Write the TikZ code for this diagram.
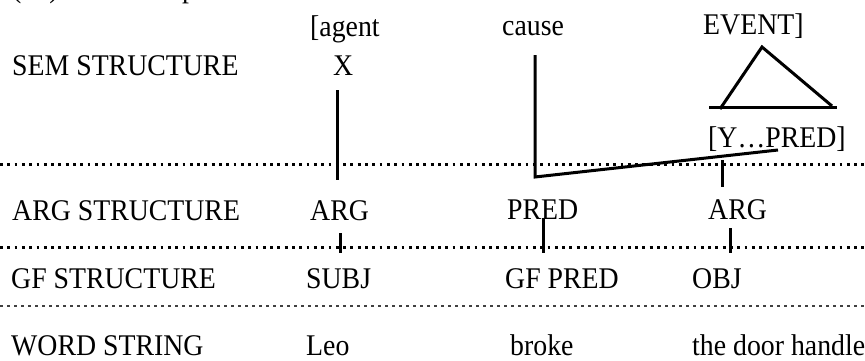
\documentclass[tikz,border=0pt]{standalone}
\usepackage{fontspec}
\setmainfont{Liberation Serif}
\newcommand{\tallt}[1]{\scalebox{1}[1.08]{#1}}
\begin{document}
\begin{tikzpicture}[x=1pt,y=-1pt,
  lbl/.style={anchor=base west,inner sep=0pt,font=\fontsize{27.8}{30}\selectfont},
  link/.style={line width=3pt,line join=miter},
  tier/.style={line width=3pt,dash pattern=on 2.8pt off 4.5pt},
  tierthin/.style={line width=1.1pt,black!75,dash pattern=on 2.7pt off 4.3pt}]
\useasboundingbox (0,0) rectangle (865,360);
\clip (0,0) rectangle (865,360);
% clipped heading fragment (cut at the top edge, as in the reference)
\node[lbl] (head) at (12,-3) {\tallt{(14)}};
\node[lbl] (headw) at (117,-3) {\tallt{Example}};
% row labels
\node[lbl] (sem) at (12,75) {\tallt{SEM STRUCTURE}};
\node[lbl] (argS) at (12,220) {\tallt{ARG STRUCTURE}};
\node[lbl] (gfS) at (11,288) {\tallt{GF STRUCTURE}};
\node[lbl] (wordS) at (11,355) {\tallt{WORD STRING}};
% semantic structure
\node[lbl] (agent) at (310,36) {\tallt{[agent}};
\node[lbl] (cause) at (502,35) {\tallt{cause}};
\node[lbl] (event) at (703,34) {\tallt{EVENT]}};
\node[lbl] (X) at (333,75) {\tallt{X}};
\node[lbl] (ypred) at (708,147) {\tallt{[Y…PRED]}};
% argument structure
\node[lbl] (arg1) at (310,220) {\tallt{ARG}};
\node[lbl] (pred) at (507,219) {\tallt{PRED}};
\node[lbl] (arg2) at (708,219) {\tallt{ARG}};
% GF structure
\node[lbl] (subj) at (306,288) {\tallt{SUBJ}};
\node[lbl] (gfpred) at (505,288) {\tallt{GF PRED}};
\node[lbl] (obj) at (692,288) {\tallt{OBJ}};
% word string
\node[lbl] (leo) at (306,355) {\tallt{Leo}};
\node[lbl] (broke) at (510,355) {\tallt{broke}};
\node[lbl] (tdh) at (692,355) {\tallt{the door handle}};
% tier separators
\coordinate (d1l) at (0,164); \coordinate (d1r) at (865,164);
\coordinate (d2l) at (0,247); \coordinate (d2r) at (865,247);
\coordinate (d3l) at (0,306); \coordinate (d3r) at (865,306);
\draw[tier] (d1l) -- (d1r);
\draw[tier] (d2l) -- (d2r);
\draw[tierthin] (d3l) -- (d3r);
% triangle
\coordinate (tapex) at (762,47);
\coordinate (tleft) at (720,109);
\coordinate (tright) at (832,106);
\coordinate (tbl) at (709,107);
\coordinate (tbr) at (837,107);
\draw[link] (tleft) -- (tapex) -- (tright);
\draw[link] (tbl) -- (tbr);
% association lines
\coordinate (xa) at (337,90); \coordinate (xb) at (337,180);
\draw[link] (xa) -- (xb);
\coordinate (ca) at (535,55); \coordinate (cb) at (535,177); \coordinate (cc) at (778,150);
\draw[link] (ca) -- (cb) -- (cc);
\coordinate (ya) at (722,160); \coordinate (yb) at (722,187);
\draw[link] (ya) -- (yb);
\coordinate (s1a) at (340,233); \coordinate (s1b) at (340,253);
\draw[link] (s1a) -- (s1b);
\coordinate (s2a) at (543,218); \coordinate (s2b) at (543,253);
\draw[link] (s2a) -- (s2b);
\coordinate (s3a) at (730,228); \coordinate (s3b) at (730,253);
\draw[link] (s3a) -- (s3b);
\end{tikzpicture}
\end{document}
